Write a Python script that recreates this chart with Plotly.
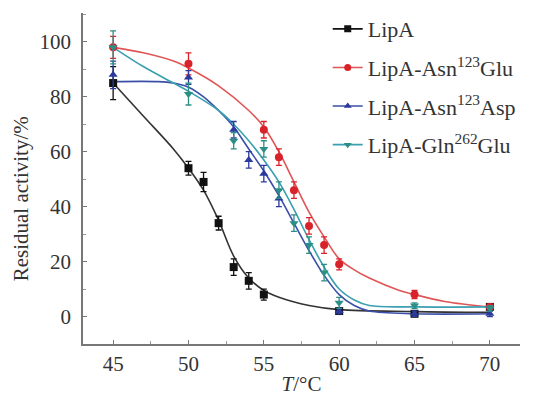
import plotly.graph_objects as go

lipa_T = [45, 50, 51, 52, 53, 54, 55, 60, 65, 70]
lipa_v = [85, 54, 49, 34, 18, 13, 8, 2, 1, 3.5]
lipa_e = [6, 2.5, 3.5, 2.5, 3, 3, 2, 1, 1, 1]

glu_T = [45, 50, 55, 56, 57, 58, 59, 60, 65, 70]
glu_v = [98, 92, 68, 58, 46, 33, 26, 19, 8, 3.5]
glu_e = [4, 4, 3, 3, 3, 3, 3, 2, 1.5, 1]

asp_T = [45, 50, 53, 54, 55, 56, 60, 65, 70]
asp_v = [88, 87, 68, 57, 52, 43, 2, 1, 1]
asp_e = [5, 2.5, 3, 3, 3, 3, 1, 1, 1]

gln_T = [45, 50, 53, 55, 56, 57, 58, 59, 60, 65, 70]
gln_v = [98, 81, 64, 61, 46, 34, 26, 16, 5, 4, 3]
gln_e = [6, 4, 3, 3, 3, 3, 3, 3, 2, 1, 1]

# ---- fitted curves ----
lipa_fit_T = [45, 47, 49, 50, 51, 52, 53, 54, 55, 56, 58, 60, 65, 70]
lipa_fit_v = [85, 73, 61, 54, 46, 35, 22, 14, 9.5, 7, 4, 2.5, 1.8, 1.5]

glu_fit_T = [45, 47, 49, 50, 52, 54, 55, 56, 57, 58, 59, 60, 61, 62, 64, 65, 67, 70]
glu_fit_v = [98, 96, 93, 90.5, 84, 75, 69, 60, 49, 38, 29, 21, 17, 14, 9.5, 8, 5.5, 3.5]

asp_fit_T = [45, 48, 49, 50, 51, 52, 53, 54, 55, 56, 57, 58, 59, 60, 61, 62, 65, 70]
asp_fit_v = [85.5, 85.5, 85, 83.5, 80, 75, 69, 61, 53, 44, 34, 24, 15, 8, 4, 2, 1, 1]

gln_fit_T = [45, 47, 49, 50, 52, 53, 54, 55, 56, 57, 58, 59, 60, 61, 62, 65, 70]
gln_fit_v = [98, 91, 85, 82, 75, 70, 64, 57, 49, 39, 28, 18, 10, 6, 4, 3.5, 3.5]

names = ["LipA", "LipA-Asn<sup>123</sup>Glu", "LipA-Asn<sup>123</sup>Asp", "LipA-Gln<sup>262</sup>Glu"]
marker_colors = ["#111111", "#d9232b", "#2b3a9c", "#2c8f86"]
line_colors = ["#333333", "#e05555", "#3a4fa8", "#3a9fb0"]
symbols = ["square", "circle", "triangle-up", "triangle-down"]

series = [
    (lipa_T, lipa_v, lipa_e, lipa_fit_T, lipa_fit_v),
    (glu_T, glu_v, glu_e, glu_fit_T, glu_fit_v),
    (asp_T, asp_v, asp_e, asp_fit_T, asp_fit_v),
    (gln_T, gln_v, gln_e, gln_fit_T, gln_fit_v),
]

fig = go.Figure()
FONT = "Liberation Serif"

for i, (T, v, e, fT, fv) in enumerate(series):
    fig.add_trace(go.Scatter(
        x=fT, y=fv, mode="lines", line=dict(color=line_colors[i], width=1.6, shape="spline"),
        showlegend=False, hoverinfo="skip"))
for i, (T, v, e, fT, fv) in enumerate(series):
    fig.add_trace(go.Scatter(
        x=T, y=v, mode="markers",
        marker=dict(symbol=symbols[i], size=8, color=marker_colors[i]),
        error_y=dict(type="data", array=e, color=marker_colors[i], thickness=1.3, width=3),
        showlegend=False))
for i in range(4):
    fig.add_trace(go.Scatter(
        x=[None], y=[None], mode="lines+markers", name=names[i], legendgroup=str(i),
        line=dict(color=line_colors[i] if i else "#111111", width=1.6),
        marker=dict(symbol=symbols[i], size=7, color=marker_colors[i])))

# the page body has an 8px margin, so the figure is 8px smaller and margins shifted
fig.update_layout(
    width=525, height=388,
    margin=dict(l=75, r=13, t=5, b=52, autoexpand=False),
    paper_bgcolor="white", plot_bgcolor="white",
    font=dict(family=FONT, size=21, color="#333333"),
    legend=dict(x=0.56, y=1.015, xanchor="left", yanchor="top",
                font=dict(family=FONT, size=22, color="#333333"),
                bgcolor="rgba(0,0,0,0)", tracegroupgap=7, itemwidth=30),
    xaxis=dict(range=[43, 72], tickvals=[45, 50, 55, 60, 65, 70],
               ticks="inside", ticklen=4, tickcolor="#777", showline=True,
               linecolor="#777", linewidth=1.5, showgrid=False, zeroline=False,
               tickfont=dict(family=FONT, size=21),
               minor=dict(dtick=2.5, tick0=45, ticks="inside", ticklen=3, tickcolor="#999"),
               title=dict(text="<i>T</i>/°C", standoff=4, font=dict(family=FONT, size=21))),
    yaxis=dict(range=[-10, 110.5], tickvals=[0, 20, 40, 60, 80, 100],
               ticks="inside", ticklen=4, tickcolor="#777", showline=True,
               linecolor="#777", linewidth=1.5, showgrid=False, zeroline=False,
               tickfont=dict(family=FONT, size=21),
               minor=dict(dtick=10, tick0=0, ticks="inside", ticklen=3, tickcolor="#999"),
               ticklabelstandoff=6),
    annotations=[dict(text="Residual activity/%", textangle=-90, xref="paper", yref="paper",
                      x=-0.142, y=0.44, xanchor="center", yanchor="middle", showarrow=False,
                      font=dict(family=FONT, size=21, color="#333333"))],
)

fig.write_html("out.html")
